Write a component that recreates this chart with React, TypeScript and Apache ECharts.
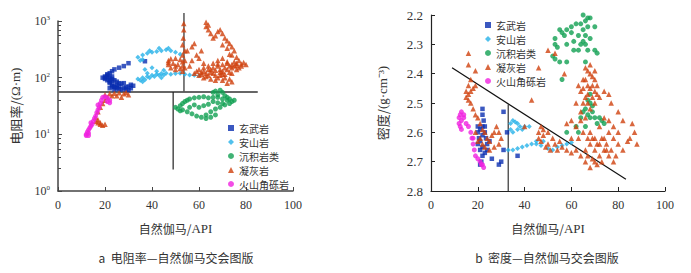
import React, { useEffect, useRef } from "react";
import * as echarts from "echarts";

const rockNames = ["玄武岩", "安山岩", "沉积岩类", "凝灰岩", "火山角砾岩"];
const rockColors = ["#0a2eb0", "#26b2e8", "#12a052", "#d0410e", "#f022e0"];
const rockSymbols = ["rect", "diamond", "circle", "triangle", "circle"];
const rockSizes = [4.5, 5, 5, 5.5, 5];

// ---- chart a: gamma (API) vs resistivity (ohm-m) ----
const resBasalt: number[][] = [
  [20, 100], [21, 110], [20, 95], [21, 90], [22, 85], [22, 80], [23, 75], [23, 70], [24, 68], [25, 65],
  [26, 63], [27, 62], [28, 65], [29, 68], [30, 70], [31, 75], [32, 72], [31, 65], [22, 120], [23, 130],
  [24, 140], [26, 150], [28, 160], [30, 180], [37, 195], [21, 105], [22, 100], [23, 95], [24, 90], [25, 85],
  [26, 80], [27, 78], [28, 80], [22, 65], [24, 62], [29, 62], [30, 60], [21, 115], [25, 75], [23, 105],
  [20, 105], [19, 100], [24, 70], [26, 70], [22, 92], [23, 88],
];
const resAndesite: number[][] = [
  [34, 230], [36, 250], [38, 270], [40, 280], [42, 290], [44, 300], [46, 310], [48, 300], [50, 280], [52, 260],
  [43, 330], [47, 330], [39, 300], [36, 210], [35, 200], [34, 95], [35, 90], [36, 100], [37, 92], [38, 105],
  [39, 100], [40, 110], [41, 105], [42, 115], [43, 110], [44, 118], [45, 112], [46, 120], [48, 115], [50, 118],
  [52, 120], [54, 115], [56, 112], [58, 110], [60, 108], [37, 140], [40, 150], [42, 130], [45, 135], [38, 120],
  [44, 100], [36, 85],
];
const resSediment: number[][] = [
  [50, 30], [51, 28], [52, 32], [53, 35], [54, 38], [55, 40], [56, 42], [58, 44], [60, 45], [62, 46],
  [64, 44], [66, 45], [68, 50], [70, 55], [69, 60], [67, 58], [66, 55], [68, 45], [70, 42], [72, 40],
  [74, 38], [73, 35], [71, 33], [69, 30], [67, 28], [65, 25], [63, 22], [61, 20], [59, 21], [57, 23],
  [55, 25], [53, 27], [60, 30], [62, 32], [64, 34], [56, 30], [58, 33], [66, 38], [68, 36], [70, 35],
  [72, 45], [65, 20], [63, 19], [67, 22], [75, 40], [52, 26], [71, 48], [73, 42],
];
const resTuff: number[][] = [
  [47, 200], [47, 170], [48, 150], [50, 140], [52, 145], [53, 160], [53, 190], [52, 210], [50, 220], [48, 215],
  [49, 180], [51, 170], [47, 185], [50, 160], [53.5, 900], [53.5, 700], [53.3, 500], [53, 380], [54, 300], [53, 250],
  [54, 200], [54, 150], [53, 130], [58, 120], [60, 110], [62, 130], [64, 140], [66, 150], [68, 160], [70, 170],
  [72, 180], [74, 170], [76, 180], [78, 175], [80, 170], [62, 100], [64, 110], [66, 120], [68, 100], [70, 90],
  [72, 80], [70, 130], [72, 140], [74, 150], [66, 180], [68, 200], [70, 220], [72, 190], [75, 160], [77, 150],
  [63, 120], [65, 125], [67, 135], [69, 140], [71, 115], [73, 125], [61, 115], [59, 130], [60, 140], [62, 150],
  [64, 160], [69, 110], [71, 100], [73, 95], [74, 85], [76, 140], [78, 160], [79, 185], [63, 950], [63, 800],
  [64, 700], [65, 600], [67, 550], [68, 650], [69, 700], [70, 600], [71, 500], [72, 450], [73, 400], [74, 350],
  [75, 300], [70, 380], [72, 330], [74, 250], [76, 230], [73, 260], [66, 500], [64, 850], [55, 300], [57, 200],
  [60, 220], [62, 180], [56, 160], [59, 250], [58, 400], [61, 300], [57, 350], [20, 50], [22, 52], [24, 53],
  [26, 54], [28, 52], [30, 50], [27, 45], [25, 48], [23, 48], [29, 55], [21, 45], [20, 40], [19, 35],
  [18, 30], [17, 25], [16, 20], [17, 18], [16, 17], [17, 16], [18, 15], [19, 14.5], [20, 15], [18, 16],
  [65, 140], [67, 110], [69, 125], [71, 150], [73, 160], [75, 190], [77, 200], [65, 95], [67, 90], [63, 105],
  [61, 125], [70, 115], [74, 120], [76, 165], [68, 175],
];
const resBreccia: number[][] = [
  [12, 10], [12.5, 11], [13, 10.5], [13, 12], [13.5, 13], [14, 14], [14.5, 15], [15, 17], [15.5, 19], [16, 21],
  [16.5, 24], [17, 27], [17.5, 30], [18, 35], [18.5, 40], [19, 45], [20, 46], [21, 44], [22, 40], [22, 36],
  [21, 38], [12, 9.5], [13, 9.5], [14, 16], [17, 33],
];
const resLineH: number[][] = [[0, 56], [85, 56]];
const resLineV1: number[][] = [[53.6, 56], [53.6, 1380]];
const resLineV2: number[][] = [[49, 56], [49, 2.4]];

// ---- chart b: gamma (API) vs density (g/cm3) ----
const denBasalt: number[][] = [
  [22, 2.52], [22, 2.54], [22.5, 2.56], [22, 2.58], [21, 2.59], [20, 2.6], [20.5, 2.62], [21, 2.63], [22, 2.61], [23, 2.6],
  [23.5, 2.62], [24, 2.64], [22, 2.65], [21, 2.66], [22, 2.68], [21.5, 2.7], [21, 2.71], [23, 2.67], [24, 2.66], [25, 2.63],
  [20, 2.58], [26, 2.69], [29, 2.71], [30, 2.7], [31, 2.53], [31, 2.66], [32.5, 2.6], [37, 2.68], [20, 2.64], [23, 2.58],
];
const denAndesite: number[][] = [
  [34, 2.57], [35, 2.56], [36, 2.565], [37, 2.57], [38, 2.58], [37, 2.59], [35, 2.6], [34, 2.59], [39, 2.59], [40, 2.58],
  [42, 2.58], [33, 2.66], [35, 2.66], [37, 2.655], [39, 2.65], [41, 2.645], [43, 2.64], [45, 2.64], [47, 2.645], [50, 2.655],
  [52, 2.66], [54, 2.65], [56, 2.645], [58, 2.64], [60, 2.635], [45, 2.63], [48, 2.63],
];
const denSediment: number[][] = [
  [65, 2.2], [67, 2.21], [68, 2.21], [66, 2.22], [64, 2.23], [62, 2.23], [60, 2.24], [58, 2.25], [55, 2.25], [57, 2.27],
  [53, 2.28], [56, 2.26], [60, 2.26], [63, 2.27], [65, 2.25], [67, 2.24], [66, 2.27], [68, 2.28], [65, 2.29], [64, 2.3],
  [66, 2.3], [70, 2.24], [61, 2.29], [53, 2.3], [54, 2.31], [52, 2.34], [53, 2.35], [55, 2.36], [58, 2.36], [56, 2.42],
  [63, 2.32], [67, 2.32], [70, 2.32], [71, 2.33], [66, 2.36], [58, 2.3], [61, 2.32], [67, 2.49], [68, 2.5], [69, 2.51],
  [66, 2.52], [65, 2.53], [67, 2.54], [68, 2.55], [70, 2.55], [72, 2.55], [73, 2.56], [74, 2.57], [71, 2.57], [62, 2.58],
  [63, 2.6], [58, 2.6], [66, 2.58], [69, 2.53], [64, 2.55], [68, 2.47],
];
const denTuff: number[][] = [
  [16, 2.33], [16, 2.37], [19, 2.39], [17, 2.42], [16, 2.44], [15, 2.46], [16, 2.47], [17, 2.46], [18, 2.45], [19, 2.44],
  [15, 2.48], [16, 2.49], [17, 2.5], [18, 2.52], [19, 2.54], [20, 2.55], [21, 2.57], [22, 2.59], [23, 2.6], [24, 2.62],
  [25, 2.63], [22, 2.64], [21, 2.62], [26, 2.61], [27, 2.6], [28, 2.58], [29, 2.6], [30, 2.62], [29, 2.64], [27, 2.65],
  [25, 2.66], [23, 2.65], [19, 2.6], [20, 2.63], [43, 2.49], [46, 2.38], [50, 2.32], [53, 2.33], [57, 2.4], [40, 2.58],
  [46, 2.6], [47, 2.58], [48, 2.59], [50, 2.6], [52, 2.62], [53, 2.64], [51, 2.66], [49, 2.65], [47, 2.63], [46, 2.62],
  [54, 2.66], [56, 2.65], [55, 2.63], [48, 2.61], [50, 2.64], [60, 2.62], [62, 2.58], [64, 2.56], [66, 2.55], [68, 2.6],
  [70, 2.62], [72, 2.64], [74, 2.66], [76, 2.68], [78, 2.7], [70, 2.7], [68, 2.72], [66, 2.7], [64, 2.68], [62, 2.66],
  [72, 2.68], [74, 2.62], [76, 2.6], [78, 2.62], [80, 2.64], [82, 2.66], [80, 2.6], [78, 2.58], [76, 2.56], [86, 2.57],
  [87, 2.6], [88, 2.64], [85, 2.62], [82, 2.56], [80, 2.53], [84, 2.63], [66, 2.66], [68, 2.64], [70, 2.66], [72, 2.58],
  [74, 2.55], [65, 2.6], [63, 2.62], [60, 2.67], [58, 2.66], [66, 2.38], [67, 2.39], [68, 2.4], [69, 2.41], [70, 2.42],
  [66, 2.42], [67, 2.44], [68, 2.45], [69, 2.44], [70, 2.46], [71, 2.47], [65, 2.45], [64, 2.46], [63, 2.44], [66, 2.48],
  [67, 2.5], [68, 2.52], [70, 2.5], [72, 2.48], [74, 2.46], [76, 2.47], [77, 2.5], [65, 2.5], [64, 2.53], [62, 2.5],
  [68, 2.37], [70, 2.39], [60, 2.56], [58, 2.57], [67, 2.68], [69, 2.69], [71, 2.71], [73, 2.7], [75, 2.66], [71, 2.64],
  [69, 2.62], [67, 2.62], [73, 2.62], [75, 2.64], [77, 2.66], [79, 2.68], [69, 2.48], [71, 2.44], [67, 2.47], [65, 2.42],
];
const denBreccia: number[][] = [
  [13, 2.53], [12.5, 2.54], [12, 2.55], [12, 2.57], [12.5, 2.58], [13, 2.56], [14, 2.55], [15, 2.57], [16, 2.58], [17, 2.6],
  [17.5, 2.62], [18, 2.64], [18.5, 2.66], [19, 2.68], [20, 2.69], [21, 2.7], [22, 2.71], [22.5, 2.72], [21.5, 2.71], [13, 2.59],
  [14, 2.54], [18, 2.62],
];
const denLineV: number[][] = [[33, 2.8], [33, 2.505]];
const denLineD: number[][] = [[9, 2.38], [83.3, 2.76]];

const serif = "'Liberation Serif', 'Times New Roman', serif";
const cjk = "'Noto Sans CJK SC', sans-serif";

function scatter(idx: number, data: number[][], axis: number) {
  return {
    type: "scatter",
    name: rockNames[idx],
    data,
    xAxisIndex: axis,
    yAxisIndex: axis,
    symbol: rockSymbols[idx],
    symbolSize: rockSizes[idx],
    itemStyle: { color: rockColors[idx] },
    silent: true,
  };
}

function refLine(data: number[][], axis: number, color: string, width: number) {
  return {
    type: "line",
    data,
    xAxisIndex: axis,
    yAxisIndex: axis,
    symbol: "none",
    clip: false,
    lineStyle: { color, width },
    silent: true,
    z: 1,
  };
}

export default function App() {
  const ref = useRef<HTMLDivElement>(null);
  useEffect(() => {
    if (!ref.current) return;
    const chart = echarts.init(ref.current, undefined, { renderer: "svg" });
    const axisLabel = { color: "#333", fontFamily: serif, fontSize: 12 };
    const nameStyle = { color: "#333", fontFamily: cjk, fontSize: 12 };
    const nameRich = { l: { fontFamily: serif, fontSize: 13, color: "#333" } };
    const legendBase = {
      data: rockNames,
      orient: "vertical",
      itemWidth: 6,
      itemHeight: 6,
      itemGap: 2,
      textStyle: { color: "#333", fontFamily: cjk, fontSize: 10, lineHeight: 12 },
      selectedMode: false,
    };
    chart.setOption({
      animation: false,
      backgroundColor: "#fff",
      grid: [
        { left: 58, top: 21, width: 235, height: 170 },
        { left: 431, top: 15, width: 234, height: 176 },
      ],
      legend: [
        { ...legendBase, left: 223, top: 117 },
        { ...legendBase, left: 480, top: 14 },
      ],
      xAxis: [
        {
          gridIndex: 0, type: "value", min: 0, max: 100, interval: 20,
          name: "自然伽马/{l|API}", nameLocation: "middle", nameGap: 31, nameTextStyle: { ...nameStyle, rich: nameRich },
          axisLine: { lineStyle: { color: "#444", width: 1.5 } },
          axisTick: { inside: true, length: 4, lineStyle: { color: "#444" } },
          axisLabel: { ...axisLabel, margin: 8 },
          splitLine: { show: false },
        },
        {
          gridIndex: 1, type: "value", min: 0, max: 100, interval: 20,
          name: "自然伽马/{l|API}", nameLocation: "middle", nameGap: 31, nameTextStyle: { ...nameStyle, rich: nameRich },
          axisLine: { lineStyle: { color: "#222", width: 1.2 } },
          axisTick: { inside: true, length: 4, lineStyle: { color: "#222" } },
          axisLabel: { ...axisLabel, margin: 8 },
          splitLine: { show: false },
        },
      ],
      yAxis: [
        {
          gridIndex: 0, type: "log", logBase: 10, min: 1, max: 1000,
          name: "电阻率/{l|(Ω·m)}", nameLocation: "middle", nameGap: 36, nameTextStyle: { ...nameStyle, fontSize: 13, rich: nameRich },
          axisLine: { show: true, lineStyle: { color: "#444", width: 1.5 } },
          axisTick: { inside: true, length: 4, lineStyle: { color: "#444" } },
          minorTick: { show: true, splitNumber: 6, length: 3, lineStyle: { color: "#444" } },
          axisLabel: {
            ...axisLabel,
            margin: 8,
            formatter: (v: number) => `10{s|${Math.round(Math.log10(v))}}`,
            rich: { s: { fontSize: 7, fontFamily: serif, color: "#333", verticalAlign: "top", padding: [0, 0, 6, 0] } },
          },
          splitLine: { show: false },
        },
        {
          gridIndex: 1, type: "value", min: 2.2, max: 2.8, interval: 0.1, inverse: true,
          name: "密度/{l|(g·cm⁻³)}", nameLocation: "middle", nameGap: 42, nameTextStyle: { ...nameStyle, fontSize: 13, rich: nameRich },
          axisLine: { show: true, lineStyle: { color: "#222", width: 1.2 } },
          axisTick: { inside: true, length: 4, lineStyle: { color: "#222" } },
          axisLabel: { ...axisLabel, fontSize: 13, margin: 8, formatter: (v: number) => v.toFixed(1) },
          splitLine: { show: false },
        },
      ],
      graphic: [
        { type: "text", x: 176, y: 257, style: { text: "a  电阻率—自然伽马交会图版", fontFamily: cjk, fontSize: 12, fill: "#333", align: "center", verticalAlign: "middle" } },
        { type: "text", x: 547, y: 257, style: { text: "b  密度—自然伽马交会图版", fontFamily: cjk, fontSize: 12, fill: "#333", align: "center", verticalAlign: "middle" } },
      ],
      series: [
        refLine(resLineH, 0, "#666", 2),
        refLine(resLineV1, 0, "#555", 1.5),
        refLine(resLineV2, 0, "#222", 1.2),
        scatter(0, resBasalt, 0),
        scatter(1, resAndesite, 0),
        scatter(2, resSediment, 0),
        scatter(3, resTuff, 0),
        scatter(4, resBreccia, 0),
        refLine(denLineV, 1, "#333", 1.2),
        refLine(denLineD, 1, "#111", 1.2),
        scatter(0, denBasalt, 1),
        scatter(1, denAndesite, 1),
        scatter(2, denSediment, 1),
        scatter(3, denTuff, 1),
        scatter(4, denBreccia, 1),
      ],
    });
    return () => chart.dispose();
  }, []);
  return <div ref={ref} style={{ position: "fixed", left: 0, top: 0, width: 691, height: 273, background: "#fff" }} />;
}
